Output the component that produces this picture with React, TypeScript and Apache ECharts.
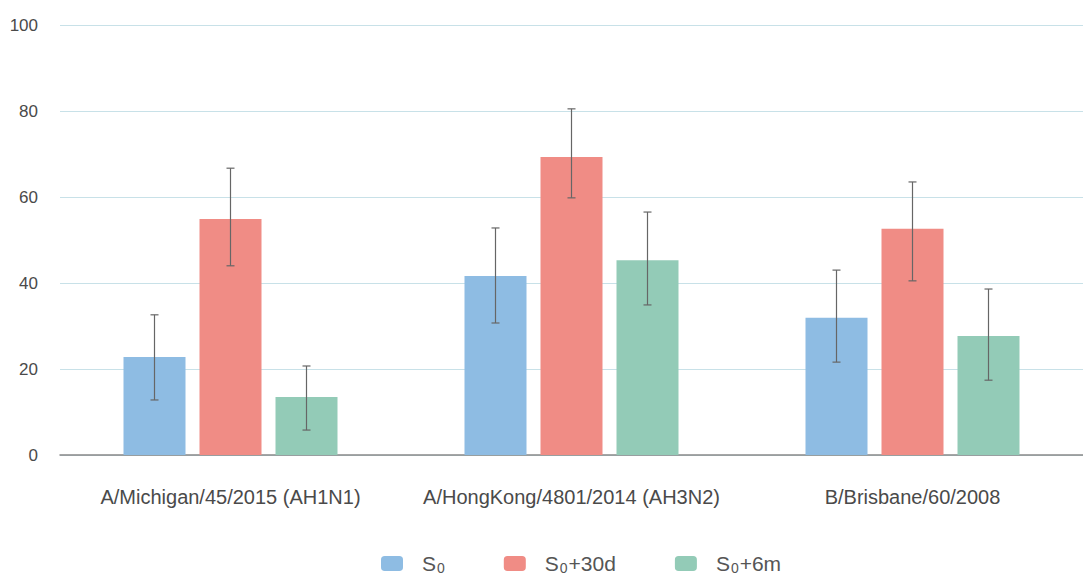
import React, { useEffect, useRef } from "react";
import * as echarts from "echarts";

const categories = ["A/Michigan/45/2015 (AH1N1)", "A/HongKong/4801/2014 (AH3N2)", "B/Brisbane/60/2008"];
const seriesNames = ["S0", "S0+30d", "S0+6m"];
const s0 = [22.8, 41.6, 31.9];
const s30d = [54.9, 69.3, 52.6];
const s6m = [13.5, 45.3, 27.7];
const s0Low = [12.8, 30.7, 21.6];
const s0High = [32.6, 52.8, 43.0];
const s30dLow = [44.0, 59.8, 40.5];
const s30dHigh = [66.7, 80.5, 63.5];
const s6mLow = [5.8, 34.9, 17.4];
const s6mHigh = [20.7, 56.5, 38.6];
const yTicks = [0, 20, 40, 60, 80, 100];

const colors = ["#8ebce3", "#f08c85", "#93cbb7"];
const BAR_W = 62;
const BAR_GAP = 14;
const FONT = "'Liberation Sans', Arial, sans-serif";

export default function App() {
  const ref = useRef<HTMLDivElement>(null);
  useEffect(() => {
    const chart = echarts.init(ref.current!, undefined, { renderer: "svg" });
    const values = [s0, s30d, s6m];
    const lows = [s0Low, s30dLow, s6mLow];
    const highs = [s0High, s30dHigh, s6mHigh];

    const barSeries = values.map((v, i) => ({
      name: seriesNames[i],
      type: "bar",
      data: v,
      barWidth: BAR_W,
      barGap: (BAR_GAP / BAR_W) * 100 + "%",
      itemStyle: { color: colors[i] },
    }));

    const errSeries = values.map((v, i) => ({
      type: "custom",
      name: "err" + i,
      data: categories.map((_, k) => [k, lows[i][k], highs[i][k]]),
      z: 10,
      silent: true,
      renderItem: (params: any, api: any) => {
        const cat = api.value(0);
        const lowP = api.coord([cat, api.value(1)]);
        const highP = api.coord([cat, api.value(2)]);
        const x = lowP[0] + (i - 1) * (BAR_W + BAR_GAP);
        const cap = 4;
        const style = { stroke: "#666", lineWidth: 1.2 };
        return {
          type: "group",
          children: [
            { type: "line", shape: { x1: x, y1: lowP[1], x2: x, y2: highP[1] }, style },
            { type: "line", shape: { x1: x - cap, y1: lowP[1], x2: x + cap, y2: lowP[1] }, style },
            { type: "line", shape: { x1: x - cap, y1: highP[1], x2: x + cap, y2: highP[1] }, style },
          ],
        };
      },
    }));

    chart.setOption({
      animation: false,
      textStyle: { fontFamily: FONT },
      grid: { left: 60, right: 0, top: 25, bottom: 121 },
      legend: {
        top: 548,
        left: 376,
        data: seriesNames,
        itemWidth: 22,
        itemHeight: 15,
        itemGap: 59,
        icon: "roundRect",
        formatter: (name: string) => {
          return "S{sub|0}" + name.slice(2);
        },
        textStyle: {
          fontFamily: FONT,
          fontSize: 21,
          color: "#555",
          padding: [0, 0, 0, 14],
          rich: {
            sub: { fontSize: 14, color: "#555", fontFamily: FONT, verticalAlign: "bottom", padding: [8, 1, 0, 1] },
          },
        },
      },
      xAxis: {
        type: "category",
        data: categories,
        axisTick: { show: false },
        axisLine: { lineStyle: { color: "#888", width: 1.5 } },
        axisLabel: { interval: 0, hideOverlap: false, margin: 32, fontSize: 20, color: "#4a4a4a", fontFamily: FONT },
      },
      yAxis: {
        type: "value",
        min: yTicks[0],
        max: yTicks[yTicks.length - 1],
        interval: 20,
        axisLine: { show: false },
        axisTick: { show: false },
        axisLabel: { margin: 22, fontSize: 17, color: "#4a4a4a", fontFamily: FONT },
        splitLine: { lineStyle: { color: "#c8e1e8", width: 1 } },
      },
      series: [...barSeries, ...errSeries],
    });
    return () => chart.dispose();
  }, []);
  return <div ref={ref} style={{ width: 1083, height: 576, position: "absolute", left: 0, top: 0 }} />;
}
